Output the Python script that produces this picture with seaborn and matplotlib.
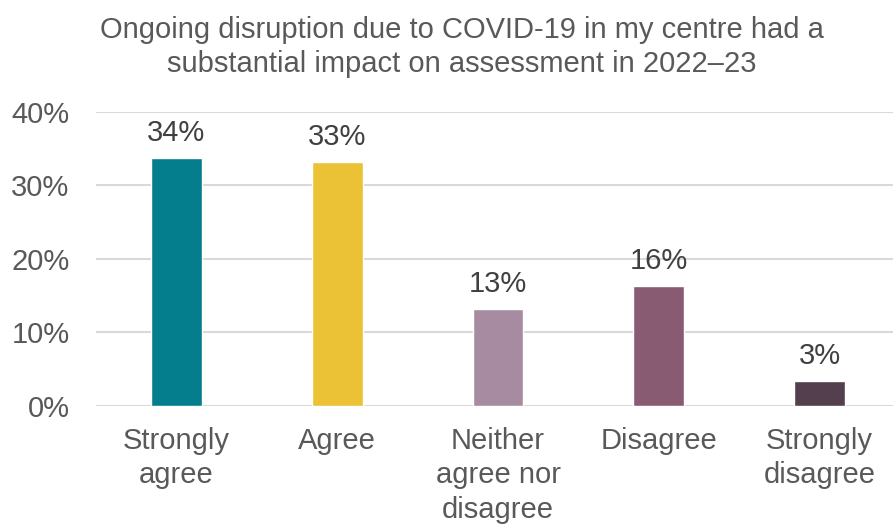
import matplotlib
matplotlib.use("Agg")
import matplotlib.pyplot as plt
import seaborn as sns
import pandas as pd

categories = ["Strongly\nagree", "Agree", "Neither\nagree nor\ndisagree", "Disagree", "Strongly\ndisagree"]
shares = [33.7, 33.2, 13.2, 16.3, 3.4]
bar_colors = ["#047E8C", "#EBC236", "#A78CA1", "#885B73", "#533F4D"]
y_ticks = [0, 10, 20, 30, 40]
title = "Ongoing disruption due to COVID-19 in my centre had a\nsubstantial impact on assessment in 2022\u201323"

sns.set_theme(style="white")
plt.rcParams["font.family"] = ["Liberation Sans", "DejaVu Sans"]
text_color = "#595959"
value_color = "#404040"
fs = 21

df = pd.DataFrame({"category": categories, "share": shares})

fig = plt.figure(figsize=(8.93, 5.24), dpi=100)
ax = fig.add_axes([96 / 893, 1 - 406 / 524, 804 / 893, (406 - 111.7) / 524])

sns.barplot(data=df, x="category", y="share", hue="category", palette=bar_colors,
            legend=False, width=0.317, saturation=1, ax=ax, zorder=3)

ax.set_ylim(0, 40)
ax.set_xlim(-0.5, 4.5)
ax.set_yticks(y_ticks)
ax.set_yticklabels([f"{t}%" for t in y_ticks])
ax.yaxis.grid(True, color="#D9D9D9", linewidth=1.5, zorder=0)
ax.set_axisbelow(True)
for s in ax.spines.values():
    s.set_visible(False)
ax.set_xlabel("")
ax.set_ylabel("")
ax.tick_params(axis="y", length=0, pad=19, labelsize=fs, labelcolor=text_color)
ax.tick_params(axis="x", length=0, pad=15, labelsize=fs, labelcolor=text_color)
for lbl in ax.get_xticklabels():
    lbl.set_linespacing(1.29)

for i, v in enumerate(shares):
    ax.annotate(f"{v:.0f}%", (i, v), xytext=(0, 8), textcoords="offset points",
                ha="center", va="bottom", fontsize=fs, color=value_color)

fig.text(462 / 893, 1 - 47 / 524, title, ha="center", va="center",
         fontsize=fs, color=text_color, linespacing=1.29)

fig.savefig("out.png", dpi=100)
